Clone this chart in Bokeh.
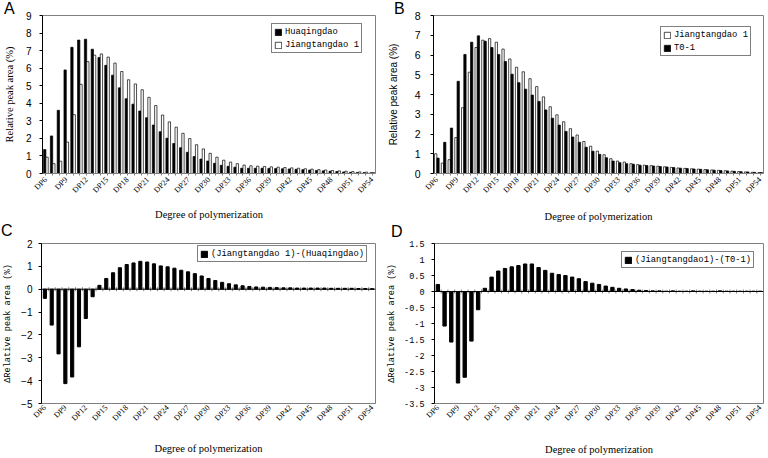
from math import pi
from bokeh.plotting import figure
from bokeh.layouts import column, row
from bokeh.models import (ColumnDataSource, FactorRange, Range1d, SingleIntervalTicker,
                          Span, CustomJSTickFormatter, Div)
from bokeh.transform import dodge
from bokeh.embed import file_html
from bokeh.resources import INLINE

# ---------------- data ----------------
categories = [f"DP{n}" for n in range(6, 55)]
shown_labels = ["DP6", "DP9", "DP12", "DP15", "DP18", "DP21", "DP24", "DP27", "DP30",
                "DP33", "DP36", "DP39", "DP42", "DP45", "DP48", "DP51", "DP54"]

huaqingdao = [1.36, 2.14, 3.60, 5.90, 7.19, 7.60, 7.65, 7.08, 6.61, 6.16, 5.60, 4.88, 4.26,
              3.95, 3.56, 3.18, 2.76, 2.38, 2.01, 1.71, 1.47, 1.21, 0.97, 0.82, 0.71, 0.58,
              0.47, 0.41, 0.36, 0.30, 0.30, 0.30, 0.30, 0.29, 0.28, 0.27, 0.26, 0.24, 0.22,
              0.20, 0.17, 0.15, 0.13, 0.11, 0.09, 0.07, 0.06, 0.05, 0.04]
jiangtang_a = [0.93, 0.56, 0.70, 1.79, 3.35, 5.08, 6.37, 6.74, 6.81, 6.63, 6.29, 5.81, 5.34,
               5.10, 4.77, 4.34, 3.87, 3.33, 2.94, 2.64, 2.29, 1.99, 1.64, 1.40, 1.15, 0.93,
               0.76, 0.65, 0.56, 0.48, 0.44, 0.42, 0.40, 0.38, 0.36, 0.34, 0.32, 0.30, 0.27,
               0.25, 0.22, 0.20, 0.17, 0.15, 0.13, 0.11, 0.09, 0.08, 0.06]
jiangtang_b = [1.00, 0.53, 0.70, 1.82, 3.33, 5.13, 6.38, 6.75, 6.83, 6.65, 6.30, 5.80, 5.38,
               5.15, 4.80, 4.40, 3.88, 3.38, 2.97, 2.62, 2.27, 1.95, 1.62, 1.38, 1.13, 0.95,
               0.75, 0.63, 0.58, 0.50, 0.45, 0.42, 0.40, 0.37, 0.34, 0.31, 0.28, 0.26, 0.24,
               0.22, 0.20, 0.18, 0.16, 0.14, 0.12, 0.10, 0.08, 0.06, 0.05]
t0_1 = [0.78, 1.58, 2.30, 4.67, 6.03, 6.65, 6.97, 6.70, 6.38, 6.03, 5.67, 5.03, 4.60,
        4.27, 3.97, 3.65, 3.22, 2.80, 2.45, 2.13, 1.85, 1.58, 1.33, 1.13, 0.97, 0.80,
        0.63, 0.55, 0.50, 0.47, 0.42, 0.40, 0.38, 0.35, 0.33, 0.30, 0.27, 0.25, 0.23,
        0.21, 0.19, 0.17, 0.15, 0.13, 0.11, 0.09, 0.08, 0.06, 0.05]
diff_c = [-0.40, -1.57, -2.83, -4.13, -3.84, -2.52, -1.28, -0.33, 0.17, 0.47, 0.72, 0.94, 1.08,
          1.15, 1.22, 1.19, 1.11, 1.02, 0.98, 0.92, 0.83, 0.76, 0.68, 0.58, 0.47, 0.38,
          0.30, 0.24, 0.19, 0.15, 0.12, 0.10, 0.09, 0.08, 0.07, 0.06, 0.06, 0.05, 0.05,
          0.05, 0.05, 0.05, 0.04, 0.04, 0.04, 0.04, 0.03, 0.03, 0.02]
diff_d = [0.22, -1.08, -1.58, -2.86, -2.68, -1.55, -0.57, 0.10, 0.45, 0.64, 0.72, 0.77, 0.81,
          0.86, 0.86, 0.75, 0.66, 0.57, 0.53, 0.50, 0.45, 0.40, 0.31, 0.26, 0.22, 0.17,
          0.13, 0.10, 0.08, 0.06, 0.04, 0.03, 0.02, 0.02, 0.01, 0.02, 0.01, 0.01, 0.02,
          0.01, 0.01, 0.01, 0.02, 0.01, 0.01, 0.01, 0.01, 0.01, 0.01]

panel_letters = ["A", "B", "C", "D"]

src = ColumnDataSource(dict(cat=categories, h=huaqingdao, ja=jiangtang_a, jb=jiangtang_b,
                            t=t0_1, dc=diff_c, dd=diff_d))

SERIF = "Liberation Serif"
SANS = "Liberation Sans"
MONO = "Liberation Mono"
GRAY = "#808080"


def make_fig(w, h, bl, br, bt, bb, y0, y1, step):
    p = figure(width=w, height=h, x_range=FactorRange(*categories), y_range=Range1d(y0, y1),
               output_backend="svg", toolbar_location=None,
               min_border_left=bl, min_border_right=br, min_border_top=bt, min_border_bottom=bb)
    p.xgrid.visible = False
    p.ygrid.visible = False
    p.outline_line_color = GRAY
    p.outline_line_width = 1
    p.background_fill_color = "white"
    p.border_fill_color = "white"
    ya = p.yaxis[0]
    ya.ticker = SingleIntervalTicker(interval=step)
    ya.minor_tick_line_color = None
    ya.major_tick_out = 3
    ya.major_tick_in = 0
    ya.axis_line_color = "black"
    ya.major_tick_line_color = "black"
    ya.major_label_text_color = "black"
    ya.axis_label_text_font_style = "normal"
    ya.axis_label_text_color = "black"
    xa = p.xaxis[0]
    xa.formatter = CustomJSTickFormatter(args=dict(shown=shown_labels),
                                         code="return shown.includes(tick) ? tick : '';")
    xa.major_label_orientation = pi / 4
    xa.major_label_text_font = SERIF
    xa.major_label_text_font_size = "8px"
    xa.major_label_text_color = "black"
    xa.major_label_standoff = 3
    xa.axis_label = "Degree of polymerization"
    xa.axis_label_text_font = SERIF
    xa.axis_label_text_font_size = "10.5px"
    xa.axis_label_text_font_style = "normal"
    xa.axis_label_text_color = "black"
    xa.axis_label_standoff = 8
    xa.axis_line_color = GRAY
    xa.major_tick_line_color = GRAY
    xa.major_tick_out = 2
    xa.major_tick_in = 0
    return p


def style_legend(p, loc, two_rows=True):
    lg = p.legend[0]
    lg.location = loc
    lg.label_text_font = MONO
    lg.label_text_font_size = "8.8px"
    lg.label_text_color = "black"
    lg.label_height = 11
    lg.label_standoff = 3
    lg.glyph_width = 8
    lg.glyph_height = 8
    lg.spacing = 2 if two_rows else 0
    lg.padding = 2
    lg.margin = 0
    lg.border_line_color = "black"
    lg.border_line_width = 1
    lg.background_fill_color = "white"
    lg.background_fill_alpha = 1


def letter_div(text, top, left, slot_right):
    # 14px wide letter box laid back over the figure that ends at slot_right (page px)
    ml = left - slot_right
    mr = slot_right - (left + 14)
    return Div(text=text, width=14, height=18, margin=(top, mr, 0, ml),
               styles={"font-family": SANS, "font-size": "16px", "line-height": "16px",
                       "color": "black", "position": "relative", "z-index": "10",
                       "flex": "0 0 auto"})


# ---------------- panel A ----------------
pA = make_fig(384, 228, 40, 9, 15, 52, 0, 9, 1)
pA.vbar(x=dodge("cat", -0.17, range=pA.x_range), top="h", width=0.34, source=src,
        fill_color="black", line_color="black", line_width=0.7, legend_label="Huaqingdao")
pA.vbar(x=dodge("cat", 0.17, range=pA.x_range), top="ja", width=0.34, source=src,
        fill_color="white", line_color="black", line_width=0.7, legend_label="Jiangtangdao 1")
pA.yaxis.axis_label = "Relative peak area (%)"
pA.yaxis.axis_label_text_font = SERIF
pA.yaxis.axis_label_text_font_size = "10.5px"
pA.yaxis.axis_label_standoff = 8
pA.yaxis.major_label_text_font = SANS
pA.yaxis.major_label_text_font_size = "10px"
pA.yaxis.major_label_standoff = 7
style_legend(pA, (229, 120))

# ---------------- panel B ----------------
pB = make_fig(384, 228, 45, 5, 13, 55, 0, 8, 1)
pB.vbar(x=dodge("cat", -0.17, range=pB.x_range), top="jb", width=0.34, source=src,
        fill_color="white", line_color="black", line_width=0.7, legend_label="Jiangtangdao 1")
pB.vbar(x=dodge("cat", 0.17, range=pB.x_range), top="t", width=0.34, source=src,
        fill_color="black", line_color="black", line_width=0.7, legend_label="T0-1")
pB.xaxis.axis_label_standoff = 10
pB.yaxis.axis_label = "Relative peak area (%)"
pB.yaxis.axis_label_text_font = SANS
pB.yaxis.axis_label_text_font_size = "10px"
pB.yaxis.axis_label_standoff = 13
pB.yaxis.major_label_text_font = SANS
pB.yaxis.major_label_text_font_size = "10.5px"
pB.yaxis.major_label_standoff = 9
style_legend(pB, (227, 117))

# ---------------- panel C ----------------
pC = make_fig(384, 230, 40, 9, 14, 54, -5, 2, 1)
pC.xaxis.major_tick_line_color = None
pC.xaxis.major_tick_out = 0
pC.xaxis.axis_label_standoff = 14
pC.add_layout(Span(location=0, dimension="width", line_color="black", line_width=1))
pC.scatter(x=dodge("cat", 0.5, range=pC.x_range), y=0, source=src, marker="dash", angle=pi / 2,
           size=4, line_color=GRAY)
pC.vbar(x="cat", top="dc", width=0.46, source=src, fill_color="black", line_color="black",
        legend_label="(Jiangtangdao 1)-(Huaqingdao)")
pC.yaxis.axis_label = "\u0394Relative peak area (%)"
pC.yaxis.axis_label_text_font = MONO
pC.yaxis.axis_label_text_font_size = "8.6px"
pC.yaxis.axis_label_standoff = 5
pC.yaxis.major_label_text_font = SANS
pC.yaxis.major_label_text_font_size = "10px"
pC.yaxis.major_label_standoff = 5
style_legend(pC, (156, 141), two_rows=False)

# ---------------- panel D ----------------
pD = make_fig(384, 230, 45, 5, 15, 55, -3.5, 1.5, 0.5)
pD.xaxis.major_tick_line_color = None
pD.xaxis.major_tick_out = 0
pD.xaxis.axis_label_standoff = 15
pD.add_layout(Span(location=0, dimension="width", line_color="black", line_width=1))
pD.scatter(x=dodge("cat", 0.5, range=pD.x_range), y=0, source=src, marker="dash", angle=pi / 2,
           size=4, line_color=GRAY)
pD.vbar(x="cat", top="dd", width=0.5, source=src, fill_color="black", line_color="black",
        legend_label="(Jiangtangdao1)-(T0-1)")
pD.yaxis.axis_label = "\u0394Relative peak area (%)"
pD.yaxis.axis_label_text_font = MONO
pD.yaxis.axis_label_text_font_size = "8.6px"
pD.yaxis.axis_label_standoff = 4
pD.yaxis.major_label_text_font = MONO
pD.yaxis.major_label_text_font_size = "8.5px"
pD.yaxis.major_label_standoff = 6
pD.yaxis.formatter = CustomJSTickFormatter(code="return String(tick);")
style_legend(pD, (187, 135), two_rows=False)

# panel letters, laid over the figures' top-left corners
divA = letter_div(panel_letters[0], 1, 4, 384)
divB = letter_div(panel_letters[1], 1, 394, 768)
divC = letter_div(panel_letters[2], -5, 1, 384)
divD = letter_div(panel_letters[3], -4, 391, 768)

layout = column(row(pA, divA, pB, divB), row(pC, divC, pD, divD))

open("out.html", "w").write(file_html(layout, INLINE))
